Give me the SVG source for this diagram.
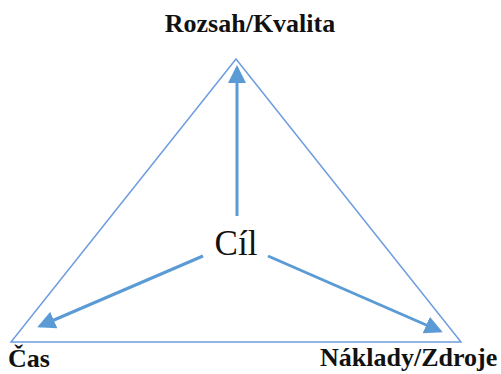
<svg xmlns="http://www.w3.org/2000/svg" width="501" height="374" viewBox="0 0 501 374">
<style>
.lbl{font-family:"Liberation Serif","Times New Roman","DejaVu Serif",serif;font-weight:bold;font-size:26px;fill:#111}
.goal{font-family:"Liberation Serif","Times New Roman","DejaVu Serif",serif;font-size:35px;fill:#111}
.tri{fill:none;stroke:#6d9de0;stroke-width:1.5}
.arr{stroke:#5b9bd5;stroke-width:3;fill:none;marker-end:url(#ah)}
</style>
<defs>
<marker id="ah" markerWidth="6" markerHeight="6" refX="5" refY="3" orient="auto" markerUnits="strokeWidth">
<path d="M0,0 L6,3 L0,6 Z" fill="#5b9bd5"/>
</marker>
</defs>
<g id="triangle"><polygon class="tri" points="236,59 11,342 461,342"/></g>
<g id="connectors">
<line class="arr" x1="237" y1="216" x2="237" y2="68"/>
<line class="arr" x1="203" y1="256" x2="40" y2="326"/>
<line class="arr" x1="268" y1="256" x2="440" y2="331"/>
</g>
<g id="n-goal"><text class="goal" x="236" y="255" text-anchor="middle">Cíl</text></g>
<g id="n-scope"><text class="lbl" x="250" y="32" text-anchor="middle">Rozsah/Kvalita</text></g>
<g id="n-time"><text class="lbl" x="8" y="367">Čas</text></g>
<g id="n-cost"><text class="lbl" x="320" y="366">Náklady/Zdroje</text></g>
</svg>
